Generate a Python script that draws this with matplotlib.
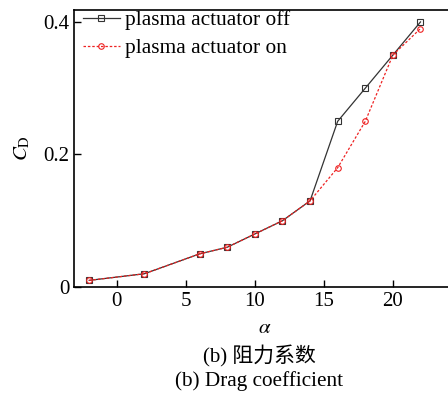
import matplotlib.pyplot as plt

plt.rcParams['font.family'] = ['Liberation Serif', 'Noto Sans CJK SC']
plt.rcParams['mathtext.fontset'] = 'stix'

alpha_off = [-2, 2, 6, 8, 10, 12, 14, 16, 18, 20, 22]
cd_off = [0.01, 0.02, 0.05, 0.06, 0.08, 0.10, 0.13, 0.25, 0.30, 0.35, 0.40]
alpha_on = [-2, 2, 6, 8, 10, 12, 14, 16, 18, 20, 22]
cd_on = [0.01, 0.02, 0.05, 0.06, 0.08, 0.10, 0.13, 0.18, 0.25, 0.35, 0.39]

xticks = [0, 5, 10, 15, 20]
yticks = [0, 0.2, 0.4]
yticklabels = ['0', '0.2', '0.4']

fig = plt.figure(figsize=(4.48, 3.99), dpi=100)
ax = fig.add_axes([74 / 448, 112 / 399, 381 / 448, 277 / 399])

ax.plot(alpha_off, cd_off, color='#333333', lw=0.9, ls='-', marker='s', ms=4,
        mfc='none', mec='#333333', mew=0.8, label='plasma actuator off')
ax.plot(alpha_on, cd_on, color='#ee2222', lw=0.9, ls=(0, (2, 1.5)), marker='o', ms=4,
        mfc='none', mec='#ee2222', mew=0.8, label='plasma actuator on')

ax.set_xlim(-3.1, 24.5)
ax.set_ylim(0, 0.418)
ax.set_xticks(xticks)
ax.set_yticks(yticks)
ax.set_yticklabels(yticklabels)
ax.tick_params(direction='in', labelsize=15, length=5, width=1)
for s in ax.spines.values():
    s.set_linewidth(1.2)

ax.set_xlabel(r'$\alpha$', fontsize=15, labelpad=6)
ax.set_ylabel(r'$C_{\mathrm{D}}$', fontsize=15, labelpad=8)

ax.legend(loc='upper left', bbox_to_anchor=(0.0, 1.03), frameon=False, fontsize=15.4,
          handlelength=1.75, handletextpad=0.25, labelspacing=0.38, borderaxespad=0)

fig.text(259 / 448, 1 - 356 / 399, '(b) 阻力系数', ha='center', va='center', fontsize=15)
fig.text(259 / 448, 1 - 381 / 399, '(b) Drag coefficient', ha='center', va='center', fontsize=15.3)

fig.savefig('out.png', dpi=100)
